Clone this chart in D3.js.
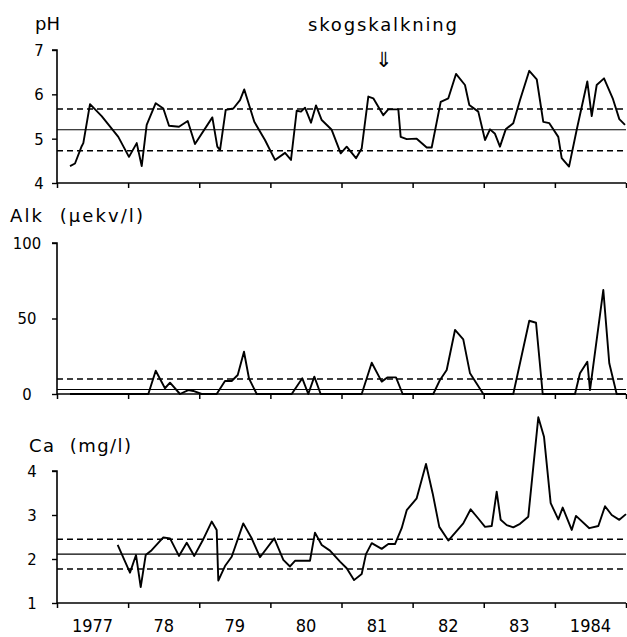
<!DOCTYPE html>
<html><head><meta charset="utf-8">
<script src="https://cdn.jsdelivr.net/npm/d3@7"></script>
<style>
html,body{margin:0;padding:0;background:#fff;}
svg{display:block;}
text{font-family:"DejaVu Sans",sans-serif;fill:#000;}
</style></head>
<body>
<svg id="chart" width="627" height="637"></svg>
<script>
// ---------- data (decimal years) ----------
const phTime = [1977.183,1977.253,1977.347,1977.370,1977.464,1977.628,1977.862,1978.012,1978.121,1978.191,1978.261,1978.388,1978.495,1978.575,1978.715,1978.838,1978.940,1979.184,1979.254,1979.292,1979.372,1979.479,1979.573,1979.633,1979.774,1979.924,1980.065,1980.206,1980.290,1980.370,1980.431,1980.487,1980.571,1980.641,1980.722,1980.862,1980.989,1981.073,1981.204,1981.284,1981.377,1981.447,1981.588,1981.658,1981.799,1981.832,1981.917,1982.057,1982.198,1982.268,1982.395,1982.502,1982.610,1982.736,1982.797,1982.923,1983.018,1983.088,1983.158,1983.228,1983.309,1983.415,1983.510,1983.640,1983.745,1983.837,1983.922,1984.048,1984.096,1984.199,1984.307,1984.456,1984.518,1984.588,1984.691,1984.813,1984.906,1984.986];
const phValues = [4.38,4.44,4.83,4.90,5.78,5.51,5.04,4.59,4.90,4.38,5.31,5.80,5.68,5.29,5.27,5.40,4.88,5.48,4.82,4.74,5.65,5.68,5.87,6.11,5.38,4.97,4.52,4.68,4.52,5.63,5.61,5.70,5.36,5.75,5.42,5.20,4.67,4.82,4.56,4.78,5.95,5.91,5.53,5.66,5.66,5.04,4.99,5.00,4.80,4.80,5.83,5.91,6.46,6.21,5.76,5.61,4.97,5.21,5.11,4.82,5.21,5.35,5.87,6.53,6.34,5.38,5.35,5.04,4.56,4.37,5.20,6.29,5.51,6.21,6.36,5.91,5.44,5.31];
const phRef = {mean: 5.2, upper: 5.67, lower: 4.73};

const alkTime = [1977.183,1978.284,1978.388,1978.518,1978.589,1978.729,1978.846,1978.916,1979.034,1979.245,1979.362,1979.456,1979.541,1979.629,1979.699,1979.808,1980.300,1980.449,1980.533,1980.618,1980.707,1981.284,1981.425,1981.565,1981.644,1981.766,1981.860,1982.290,1982.385,1982.479,1982.596,1982.712,1982.807,1982.994,1983.415,1983.640,1983.735,1983.829,1984.283,1984.353,1984.456,1984.494,1984.681,1984.765,1984.869,1985.0];
const alkValues = [0,0,15.4,3.8,7.5,0,2.6,2,0,0,8.6,8.6,12.6,28,10.4,0,0,10.4,0,11.5,0,0,20.7,8.2,11,11,0,0,9.3,15.9,42.4,36.2,13.7,0,0,48.5,47.2,0,0,13.7,21.4,2.6,68.9,20.3,0,0];
const alkRef = {mean: 3, upper: 10};

const caTime = [1977.853,1978.026,1978.111,1978.177,1978.247,1978.331,1978.495,1978.589,1978.715,1978.824,1978.930,1979.057,1979.175,1979.245,1979.268,1979.362,1979.456,1979.619,1979.737,1979.854,1980.055,1980.182,1980.276,1980.346,1980.557,1980.627,1980.722,1980.838,1980.979,1981.073,1981.176,1981.284,1981.344,1981.425,1981.565,1981.658,1981.752,1981.846,1981.917,1982.057,1982.188,1982.282,1982.375,1982.502,1982.712,1982.816,1982.923,1983.018,1983.112,1983.182,1983.238,1983.323,1983.415,1983.510,1983.626,1983.697,1983.767,1983.847,1983.941,1984.048,1984.110,1984.237,1984.297,1984.484,1984.611,1984.705,1984.799,1984.906,1985.0];
const caValues = [2.32,1.69,2.09,1.36,2.09,2.20,2.49,2.47,2.07,2.37,2.07,2.45,2.85,2.66,1.51,1.84,2.05,2.81,2.47,2.04,2.47,1.98,1.83,1.96,1.96,2.60,2.32,2.19,1.94,1.79,1.52,1.66,2.11,2.36,2.23,2.34,2.34,2.70,3.11,3.38,4.16,3.49,2.73,2.42,2.81,3.13,2.92,2.73,2.75,3.53,2.89,2.77,2.72,2.80,2.96,4.10,5.22,4.78,3.27,2.90,3.17,2.66,2.98,2.70,2.75,3.20,3.00,2.89,3.02];
const caRef = {mean: 2.11, upper: 2.45, lower: 1.77};

const yearTicks = [1977,1978,1979,1980,1981,1982,1983,1984,1985];
const yearLabels = ["1977","78","79","80","81","82","83","1984"];
const phTicks = [4,5,6,7];
const alkTicks = [0,50,100];
const caTicks = [1,2,3,4];
const liming = 1981.59; // "skogskalkning" arrow

// ---------- layout ----------
const svg = d3.select("#chart");
const x = d3.scaleLinear().domain([1977,1985]).range([57,626]);

const panels = [
  {time: phTime, values: phValues, ref: phRef, ticks: phTicks, domain:[4,7], range:[183,50], labelX:39,
   title:"pH", titleX:35, titleY:30, titleW:25},
  {time: alkTime, values: alkValues, ref: alkRef, ticks: alkTicks, domain:[0,100], range:[394,243], labelX:27,
   title:"Alk  (\u00b5ekv/l)", titleX:10, titleY:222, titleW:133},
  {time: caTime, values: caValues, ref: caRef, ticks: caTicks, domain:[1,4], range:[603,471], labelX:32,
   title:"Ca  (mg/l)", titleX:29, titleY:452, titleW:102}
];

panels.forEach((p, i) => {
  const y = d3.scaleLinear().domain(p.domain).range(p.range);
  const g = svg.append("g");

  // reference lines
  const refs = [["mean", null, 1.1], ["upper", "6,4", 1.5], ["lower", "6,4", 1.5]];
  refs.forEach(([k, dash, w]) => {
    if (p.ref[k] === undefined) return;
    g.append("line")
      .attr("x1", x(1977)).attr("x2", x(1985))
      .attr("y1", y(p.ref[k])).attr("y2", y(p.ref[k]))
      .attr("stroke", "#000").attr("stroke-width", w)
      .attr("stroke-dasharray", dash);
  });

  // y axis
  const ya = g.append("g").attr("transform", `translate(${x(1977)},0)`)
    .call(d3.axisLeft(y).tickValues(p.ticks).tickSize(5).tickFormat(""));
  ya.select(".domain").attr("stroke-width", 1.6).attr("d", `M-5,${y(p.domain[1])}H0V${y(p.domain[0])}`);
  ya.selectAll(".tick line").attr("stroke-width", 1.4);
  g.selectAll(".ylab").data(p.ticks).enter().append("text")
    .attr("x", p.labelX).attr("y", d => y(d)).attr("dy", "0.36em")
    .attr("text-anchor", "middle").style("font-family", "'DejaVu Sans Condensed','DejaVu Sans',sans-serif")
    .style("font-size", "16.5px").text(d => d);

  // x axis (bottom line of each panel)
  const xa = g.append("g").attr("transform", `translate(0,${y(p.domain[0])})`)
    .call(d3.axisBottom(x).tickValues(yearTicks).tickSize(5).tickFormat(""));
  xa.select(".domain").attr("stroke-width", 1.6).attr("d", `M${x(1977)},0H${x(1985)}`);
  xa.selectAll(".tick line").attr("stroke-width", 1.5);

  // data line
  const pts = p.time.map((t, j) => [t, p.values[j]]);
  g.append("path").datum(pts)
    .attr("fill", "none").attr("stroke", "#000").attr("stroke-width", 1.9)
    .attr("stroke-linejoin", "round")
    .attr("d", d3.line().x(d => x(d[0])).y(d => y(d[1])));

  // title
  svg.append("text").attr("x", p.titleX).attr("y", p.titleY)
    .attr("textLength", p.titleW).attr("lengthAdjust", "spacing")
    .style("font-size", "18px").style("white-space", "pre").text(p.title);

  if (i === 2) {
    svg.selectAll(".yearlab").data(yearLabels).enter().append("text")
      .attr("x", (d, j) => x(yearTicks[j] + 0.5)).attr("y", 632)
      .attr("text-anchor", "middle")
      .style("font-family", "'DejaVu Sans Condensed','DejaVu Sans',sans-serif")
      .style("font-size", "18px").text(d => d);
  }
});

// annotation
svg.append("text").attr("x", 308).attr("y", 31)
  .attr("textLength", 149).attr("lengthAdjust", "spacing")
  .style("font-size", "18px").text("skogskalkning");
svg.append("text").attr("x", x(liming)).attr("y", 67).attr("text-anchor", "middle")
  .style("font-size", "21px").text("\u21d3");
</script>
</body></html>
